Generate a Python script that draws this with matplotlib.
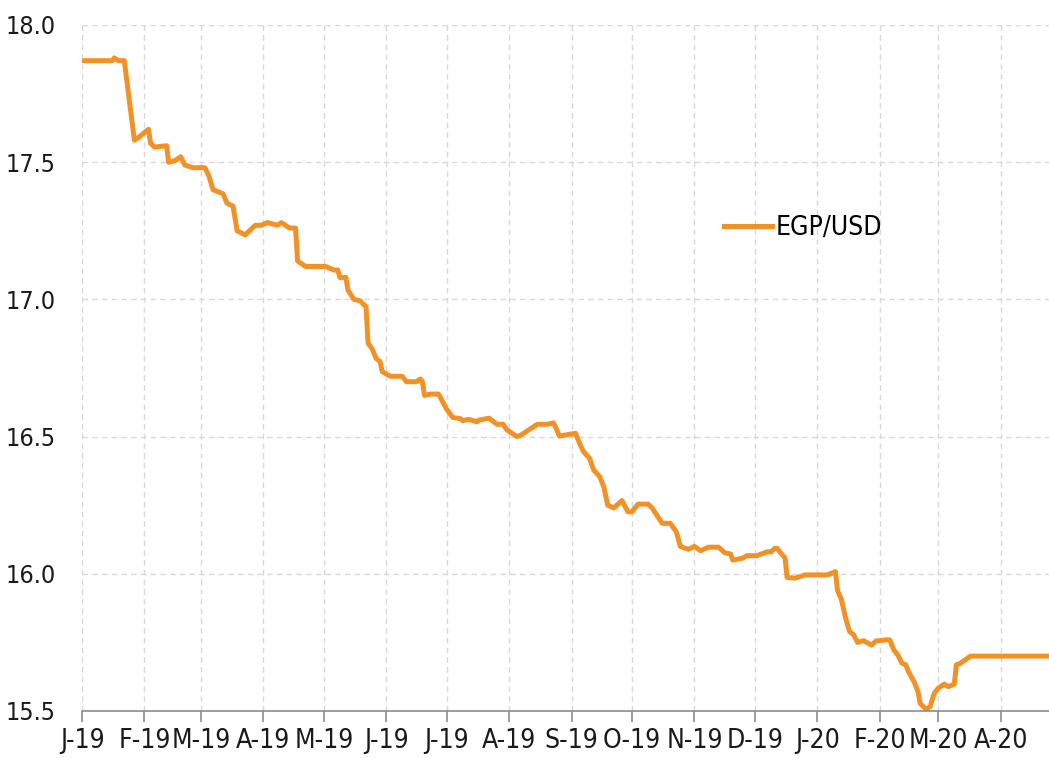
import pandas as pd
import numpy as np
import matplotlib
matplotlib.use('Agg')
import matplotlib.pyplot as plt

plt.rcParams['font.family'] = ['DejaVu Sans']
plt.rcParams['font.stretch'] = 'condensed'

# 天数（自2019-01-01起）与汇率
days = [0, 15, 16, 18, 21, 26, 28, 33, 34, 36, 42, 43, 46, 49, 51, 55, 61, 63, 65, 70,
        72, 75, 77, 81, 86, 89, 92, 97, 99, 103, 106, 107, 111, 121, 125, 127, 128, 131,
        132, 135, 138, 141, 142, 144, 146, 148, 149, 153, 159, 161, 166, 168, 169, 170,
        173, 177, 181, 184, 188, 189, 192, 196, 197, 202, 206, 209, 211, 216, 218, 226,
        231, 234, 235, 237, 245, 247, 249, 252, 254, 257, 259, 261, 264, 268, 271, 273,
        276, 281, 283, 288, 292, 295, 297, 301, 304, 307, 311, 316, 319, 322, 323, 328,
        330, 335, 340, 342, 344, 345, 349, 350, 354, 359, 367, 370, 374, 375, 377, 379,
        381, 383, 385, 388, 392, 394, 399, 401, 403, 405, 407, 409, 410, 413, 415, 416,
        419, 421, 423, 425, 428, 430, 433, 434, 436, 441, 480]
egp_usd = [17.87, 17.87, 17.88, 17.87, 17.87, 17.58, 17.59, 17.62, 17.57, 17.555, 17.56,
           17.50, 17.505, 17.52, 17.49, 17.48, 17.48, 17.45, 17.40, 17.385, 17.35, 17.34,
           17.25, 17.235, 17.27, 17.27, 17.28, 17.27, 17.28, 17.26, 17.26, 17.14, 17.12,
           17.12, 17.107, 17.107, 17.08, 17.08, 17.034, 17.00, 16.995, 16.973, 16.84, 16.82,
           16.785, 16.773, 16.737, 16.72, 16.72, 16.70, 16.70, 16.71, 16.70, 16.65, 16.655,
           16.655, 16.60, 16.57, 16.565, 16.558, 16.563, 16.554, 16.56, 16.567, 16.545,
           16.545, 16.524, 16.50, 16.506, 16.545, 16.545, 16.55, 16.536, 16.502, 16.512,
           16.475, 16.445, 16.42, 16.378, 16.354, 16.317, 16.25, 16.24, 16.267, 16.226,
           16.226, 16.254, 16.254, 16.24, 16.184, 16.184, 16.153, 16.10, 16.089, 16.10,
           16.084, 16.097, 16.097, 16.077, 16.072, 16.05, 16.057, 16.066, 16.066, 16.08,
           16.08, 16.093, 16.093, 16.057, 15.987, 15.984, 15.996, 15.996, 15.996, 16.008,
           15.94, 15.905, 15.84, 15.79, 15.778, 15.75, 15.756, 15.74, 15.755, 15.759,
           15.759, 15.722, 15.704, 15.674, 15.668, 15.647, 15.607, 15.57, 15.528, 15.506,
           15.516, 15.564, 15.583, 15.598, 15.589, 15.598, 15.668, 15.674, 15.70, 15.70]
month_labels = ['J-19', 'F-19', 'M-19', 'A-19', 'M-19', 'J-19', 'J-19', 'A-19', 'S-19',
                'O-19', 'N-19', 'D-19', 'J-20', 'F-20', 'M-20', 'A-20']

dates = pd.Timestamp('2019-01-01') + pd.to_timedelta(days, unit='D')
ticks = pd.date_range('2019-01-01', periods=len(month_labels), freq='MS')

fig = plt.figure(figsize=(10.49, 7.58), dpi=100)
ax = fig.add_axes([82 / 1049, 1 - 711 / 758, 1 - 82 / 1049, (711 - 25) / 758])
ax.plot(dates, egp_usd, color='#F29226', lw=3.6, label='EGP/USD', solid_joinstyle='round')

ax.set_ylim(15.5, 18.0)
ax.set_yticks(np.arange(15.5, 18.01, 0.5))
ax.yaxis.set_major_formatter(plt.FormatStrFormatter('%.1f'))
ax.set_xlim(dates[0], dates[-1])
ax.set_xticks(ticks)
ax.set_xticklabels(month_labels)

for s in ['top', 'right', 'left']:
    ax.spines[s].set_visible(False)
ax.spines['bottom'].set_color('#8c8c8c')
ax.spines['bottom'].set_linewidth(1.2)
ax.grid(True, color='#d9d9d9', linestyle=(0, (4, 3)), linewidth=1)
ax.set_axisbelow(True)
ax.tick_params(axis='y', length=0, pad=19, labelsize=18, labelcolor='#1a1a1a')
ax.tick_params(axis='x', length=8, width=1.2, color='#8c8c8c', pad=4,
               labelsize=19, labelcolor='#1a1a1a')

ax.legend(loc='center left', bbox_to_anchor=(0.664, 0.704), frameon=False,
          fontsize=19, handlelength=1.8, handletextpad=0.15, borderaxespad=0,
          borderpad=0)

fig.savefig('out.png', dpi=100)
